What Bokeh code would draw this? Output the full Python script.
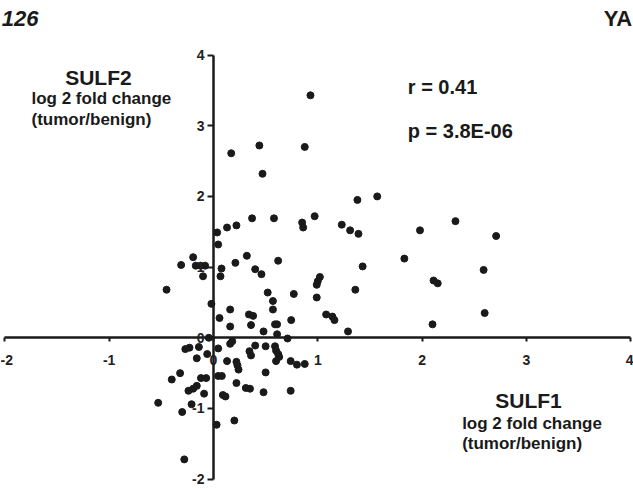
from bokeh.plotting import figure
from bokeh.models import Range1d, LinearAxis, FixedTicker, Label
from bokeh.embed import file_html
from bokeh.resources import INLINE

# SULF1 (x) vs SULF2 (y) log2 fold change (tumor/benign)
sulf1 = [0.93, 0.17, 0.44, 0.47, 0.875, 1.38, 1.57, 0.97, 0.85, 0.86,
         1.23, 1.31, 1.39, 1.98, 2.32, 2.71, 1.83, 1.43, 2.59, 2.11,
         2.15, 1.36, 2.60, 2.10, 1.29, 1.08, 1.14, 1.16, 1.02, 1.00,
         0.99, 0.99, 0.035, 0.045, 0.13, 0.22, 0.37, 0.58, -0.195, -0.31,
         -0.17, -0.125, -0.08, -0.10, 0.077, 0.067, 0.21, 0.32, 0.40, 0.46,
         0.62, -0.45, 0.52, 0.77, 0.57, -0.02, 0.16, 0.57, 0.058, 0.34,
         0.38, 0.16, 0.36, 0.59, 0.61, 0.745, 0.48, 0.61, 0.71, -0.045,
         -0.27, -0.23, -0.14, 0.045, 0.16, 0.18, 0.40, 0.50, 0.59, 0.60,
         0.62, 0.63, 0.60, 0.345, 0.36, -0.16, -0.06, 0.13, 0.22, 0.23,
         0.24, 0.74, 0.80, 0.875, -0.40, -0.32, -0.12, -0.07, 0.045, 0.08,
         0.50, 0.22, 0.31, 0.35, -0.24, -0.195, -0.16, -0.09, 0.09, 0.115,
         0.48, 0.74, -0.53, -0.21, -0.30, 0.20, 0.03, -0.28]
sulf2 = [3.43, 2.61, 2.72, 2.32, 2.70, 1.95, 2.00, 1.72, 1.63, 1.56,
         1.60, 1.52, 1.47, 1.52, 1.65, 1.44, 1.12, 1.01, 0.96, 0.81,
         0.77, 0.68, 0.35, 0.19, 0.09, 0.33, 0.30, 0.25, 0.86, 0.80,
         0.75, 0.57, 1.49, 1.32, 1.56, 1.59, 1.69, 1.69, 1.14, 1.03,
         1.02, 1.02, 1.02, 0.87, 0.98, 0.87, 1.06, 1.16, 0.97, 0.90,
         1.09, 0.68, 0.64, 0.62, 0.52, 0.48, 0.40, 0.40, 0.28, 0.33,
         0.31, 0.16, 0.18, 0.19, 0.19, 0.25, 0.09, 0.05, -0.01, 0.0,
         -0.16, -0.14, -0.13, -0.15, -0.085, -0.05, -0.11, -0.12, -0.12, -0.18,
         -0.23, -0.27, -0.33, -0.19, -0.25, -0.29, -0.23, -0.33, -0.34, -0.39,
         -0.45, -0.33, -0.38, -0.37, -0.59, -0.50, -0.57, -0.57, -0.54, -0.54,
         -0.49, -0.64, -0.71, -0.72, -0.75, -0.72, -0.68, -0.79, -0.81, -0.83,
         -0.77, -0.75, -0.92, -0.94, -1.05, -1.17, -1.23, -1.72]

x_ticks = [-2, -1, 0, 1, 2, 3, 4]
x_tick_labels = ["-2", "-1", "0", "1", "2", "3", "4"]
y_ticks = [-2, -1, 0, 1, 2, 3, 4]
y_tick_labels = ["-2", "-1", "0", "1", "2", "3", "4"]

stats_r = "r = 0.41"
stats_p = "p = 3.8E-06"

FONT = "Liberation Sans"

p = figure(width=633, height=489,
           x_range=Range1d(-2.042, 4.027), y_range=Range1d(-2.146, 4.771),
           output_backend="svg", toolbar_location=None,
           x_axis_type=None, y_axis_type=None,
           min_border=0, min_border_left=0, min_border_right=0,
           min_border_top=0, min_border_bottom=0)
p.outline_line_color = None
p.xgrid.visible = False
p.ygrid.visible = False
p.background_fill_color = "white"
p.border_fill_color = "white"

def style_axis(ax, labels, ticks, tick_out, standoff):
    ax.ticker = FixedTicker(ticks=ticks)
    ax.major_label_overrides = {t: l for t, l in zip(ticks, labels)}
    ax.bounds = (min(ticks), max(ticks))
    ax.axis_line_width = 2.5
    ax.axis_line_color = "#1a1a1a"
    ax.major_tick_line_width = 2
    ax.major_tick_line_color = "#1a1a1a"
    ax.major_tick_in = 0
    ax.major_tick_out = tick_out
    ax.minor_tick_line_color = None
    ax.major_label_standoff = standoff
    ax.major_label_text_font = FONT
    ax.major_label_text_font_style = "bold"
    ax.major_label_text_font_size = "14px"
    ax.major_label_text_color = "#222222"

xaxis = LinearAxis(fixed_location=0)
style_axis(xaxis, x_tick_labels, x_ticks, 4, 13)
p.add_layout(xaxis, "below")

yaxis = LinearAxis(fixed_location=0)
style_axis(yaxis, y_tick_labels, y_ticks, 6, 3)
p.add_layout(yaxis, "left")

p.scatter(sulf1, sulf2, size=7, color="#1a1a1a")

def lab(x, y, text, size, align="left", style="bold"):
    p.add_layout(Label(x=x, y=y, text=text, text_font=FONT,
                       text_font_style=style, text_font_size=size,
                       text_align=align, text_baseline="alphabetic",
                       text_color="#1a1a1a"))

lab(-1.103, 3.682, "SULF2", "21px", "center")
lab(-1.745, 3.38, "log 2 fold change", "17px")
lab(-1.745, 3.083, "(tumor/benign)", "17px")

lab(1.863, 3.554, stats_r, "20px")
lab(1.863, 2.932, stats_p, "20px")

lab(3.02, -0.894, "SULF1", "21px", "center")
lab(2.384, -1.208, "log 2 fold change", "17px")
lab(2.384, -1.50, "(tumor/benign)", "17px")

lab(-2.03, 4.52, "126", "22px", "left", "bold italic")
lab(4.015, 4.52, "YA", "22px", "right")

open("out.html", "w").write(file_html(p, INLINE))
